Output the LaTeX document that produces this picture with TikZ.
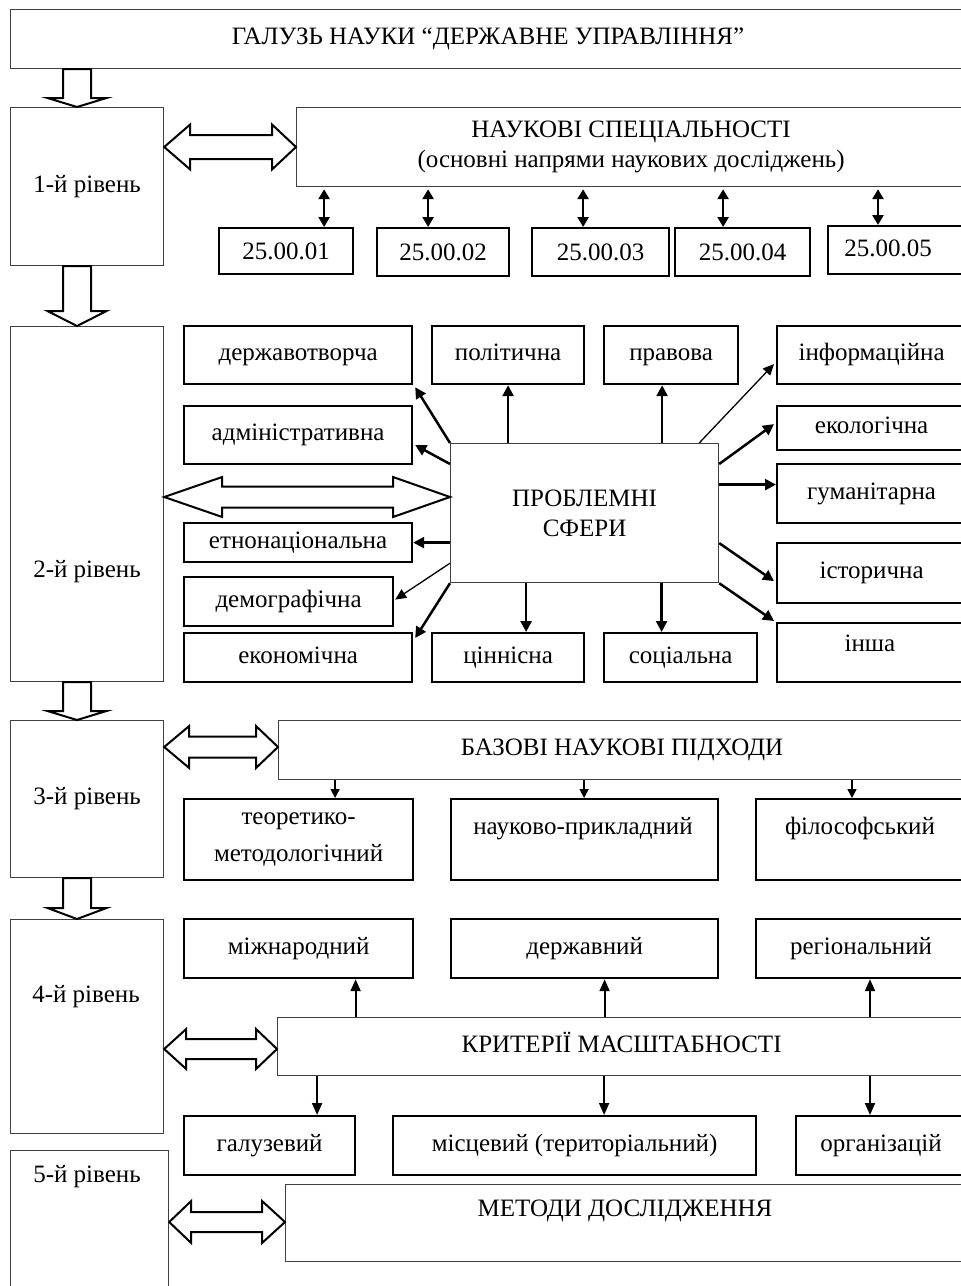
\documentclass[tikz,border=0pt]{standalone}
\usepackage{fontspec}
\setmainfont{Liberation Serif}
\usetikzlibrary{calc,arrows.meta}
\tikzset{
  base/.style={rectangle, inner sep=0pt, align=center, font=\fontsize{25}{30}\selectfont, text height=17pt, text depth=6pt},
  multi/.style={text height={}, text depth={}},
  digits/.style={text depth=1pt},
  thinbox/.style={base, draw=black!75, line width=1.2pt},
  thickbox/.style={base, draw=black, line width=2.2pt},
  txt/.style={base, align=center},
  blk/.style={draw=black, line width=2pt, fill=white, line join=miter},
  arr/.style={draw=black, line width=2.5pt, -{Triangle[length=11pt,width=11pt]}},
  thinarr/.style={draw=black, line width=1.3pt, -{Triangle[length=11pt,width=10pt]}},
  arrs/.style={draw=black, line width=1.6pt, -{Triangle[length=9pt,width=9pt]}},
  arrm/.style={draw=black, line width=2pt, -{Triangle[length=12pt,width=10pt]}},
  dbl/.style={draw=black, line width=2.5pt, {Triangle[length=10pt,width=11pt]}-{Triangle[length=10pt,width=11pt]}},
}
% box: style, name, x1, y1, x2, y2, text
\newcommand\bx[7]{\node[#1, anchor=north west, minimum width={#5-#3}, minimum height={#6-#4}] (#2) at (#3,#4) {#7};}
% vertical block arrow: upper anchor, lower anchor, x centre, head length
\newcommand\vblk[4]{\draw[blk] let \p1=#1, \p2=#2 in
  (#3pt-14pt,\y1) -- (#3pt+14pt,\y1) -- (#3pt+14pt,\y2+#4pt) -- (#3pt+29.5pt,\y2+#4pt)
  -- (#3pt,\y2) -- (#3pt-29.5pt,\y2+#4pt) -- (#3pt-14pt,\y2+#4pt) -- cycle;}
% horizontal double block arrow: left anchor, right anchor, y, head len L, head len R, half head, half shaft
\newcommand\hdbl[7]{\draw[blk] let \p1=#1, \p2=#2 in
  (\x1,-#3pt) -- (\x1+#4pt,-#3pt+#6pt) -- (\x1+#4pt,-#3pt+#7pt) -- (\x2-#5pt,-#3pt+#7pt)
  -- (\x2-#5pt,-#3pt+#6pt) -- (\x2,-#3pt) -- (\x2-#5pt,-#3pt-#6pt) -- (\x2-#5pt,-#3pt-#7pt)
  -- (\x1+#4pt,-#3pt-#7pt) -- (\x1+#4pt,-#3pt-#6pt) -- cycle;}
\begin{document}
\begin{tikzpicture}[x=1pt,y=-1pt]
\useasboundingbox (0,0) rectangle (961,1286);
\clip (0,0) rectangle (961,1286);
\fill[white] (0,0) rectangle (961,1286);

% ---------- top ----------
\bx{thinbox}{TOP}{10}{9}{965}{68}{ГАЛУЗЬ НАУКИ “ДЕРЖАВНЕ УПРАВЛІННЯ”}

% ---------- level 1 ----------
\bx{thinbox}{L1}{10}{107}{163}{265}{1-й рівень}
\bx{thinbox,multi}{NS}{296}{107}{965}{186}{НАУКОВІ СПЕЦІАЛЬНОСТІ\\(основні напрями наукових досліджень)}
\bx{thickbox,digits}{S1}{218}{227}{352}{273}{25.00.01}
\bx{thickbox,digits}{S2}{376}{227}{508}{275}{25.00.02}
\bx{thickbox,digits}{S3}{531}{227}{668}{275}{25.00.03}
\bx{thickbox,digits}{S4}{674}{227}{809}{275}{25.00.04}
\bx{thickbox}{S5}{827}{225}{1000}{273}{}
\node[txt,digits] (S5t) at (888,248) {25.00.05};

\coordinate (s1a) at ($(S1.north)+(38,0)$);
\coordinate (s2a) at ($(S2.north)+(-15,0)$);
\coordinate (s3a) at ($(S3.north)+(-17.5,0)$);
\coordinate (s4a) at ($(S4.north)+(-19.5,0)$);
\coordinate (s5a) at ($(S5.north west)+(51,0)$);
\foreach \c in {s1a,s2a,s3a,s4a,s5a}{
  \draw[dbl] ($(\c |- NS.south)+(0,2)$) -- (\c);
}

% ---------- level 2 ----------
\bx{thinbox}{L2}{10}{326}{163}{681}{}
\node[txt] (L2t) at (87,572) {2-й рівень};
\bx{thickbox}{DT}{183}{325}{411}{383}{державотворча}
\bx{thickbox}{PO}{431}{325}{583}{383}{політична}
\bx{thickbox}{PR}{603}{325}{737}{383}{правова}
\bx{thickbox}{INF}{776}{325}{965}{383}{інформаційна}
\bx{thickbox}{AD}{183}{405}{411}{463}{адміністративна}
\bx{thickbox}{EK}{776}{405}{965}{449}{екологічна}
\bx{thickbox}{HU}{776}{463}{965}{522}{гуманітарна}
\bx{thinbox,multi}{PS}{450}{443}{718}{582}{ПРОБЛЕМНІ\\СФЕРИ}
\bx{thickbox}{ET}{183}{522}{411}{561}{етнонаціональна}
\bx{thickbox}{IS}{776}{542}{965}{602}{історична}
\bx{thickbox}{DE}{183}{576}{392}{625}{демографічна}
\bx{thickbox}{IN}{776}{622}{965}{681}{}
\node[txt] (INt) at (870,646) {інша};
\bx{thickbox}{EC}{183}{632}{411}{681}{економічна}
\bx{thickbox}{CI}{431}{632}{583}{681}{ціннісна}
\bx{thickbox}{SO}{603}{632}{756}{681}{соціальна}

\draw[arr] (PS.north west) -- ($(DT.south east)+(2,2)$);
\draw[arr] (PS.north -| PO.south) -- (PO.south);
\coordinate (prA) at ($(PR.south)+(-9,0)$);
\draw[arr] (prA |- PS.north) -- (prA);
\draw[thinarr] ($(PS.north east)+(-20,0)$) -- ($(INF.west)+(-2,9)$);
\draw[arr] ($(PS.north west)+(0,21)$) -- ($(AD.east)+(2,10)$);
\draw[arr] ($(PS.north east)+(0,21)$) -- ($(EK.west)+(-2,-4)$);
\coordinate (huA) at ($(HU.west)+(0,-9)$);
\draw[arr] (huA -| PS.east) -- (huA);
\draw[arr] (ET.east -| PS.west) -- (ET.east);
\draw[thinarr] ($(PS.south west)+(0,-20)$) -- ($(DE.east)+(1,-2)$);
\draw[arr] (PS.south west) -- ($(EC.north east)+(2,6)$);
\coordinate (ciA) at ($(CI.north)+(18,0)$);
\draw[arr] (ciA |- PS.south) -- (ciA);
\coordinate (soA) at ($(SO.north)+(-19,0)$);
\draw[arr] (soA |- PS.south) -- (soA);
\draw[arr] ($(PS.east)+(0,30)$) -- ($(IS.west)+(-2,8)$);
\draw[arr] (PS.south east) -- ($(IN.north west)+(-2,-1)$);

% ---------- level 3 ----------
\bx{thinbox}{L3}{10}{720}{163}{877}{3-й рівень}
\bx{thinbox}{BAZ}{278}{720}{965}{779}{БАЗОВІ НАУКОВІ ПІДХОДИ}
\bx{thickbox,multi}{TM}{183}{798}{412}{879}{теоретико-\\[7pt]методологічний}
\bx{thickbox}{NP}{450}{798}{717}{879}{}
\node[txt] (NPt) at (583,829) {науково-прикладний};
\bx{thickbox}{FI}{755}{798}{965}{879}{}
\node[txt] (FIt) at (860,829) {філософський};
\coordinate (tmA) at ($(TM.north)+(36.5,0)$);
\coordinate (npA) at ($(NP.north)+(-0.5,0)$);
\coordinate (fiA) at ($(FI.north west)+(97,0)$);
\foreach \c in {tmA,npA,fiA}{ \draw[arrs] (\c |- BAZ.south) -- (\c); }

% ---------- level 4 ----------
\bx{thinbox}{L4}{10}{919}{163}{1133}{}
\node[txt] (L4t) at (86,997) {4-й рівень};
\bx{thickbox}{MN}{183}{918}{412}{977}{міжнародний}
\bx{thickbox}{DZ}{450}{918}{717}{977}{державний}
\bx{thickbox}{RG}{755}{918}{965}{977}{регіональний}
\bx{thinbox}{KR}{277}{1017}{965}{1075}{КРИТЕРІЇ МАСШТАБНОСТІ}
\bx{thickbox}{GA}{183}{1115}{354}{1174}{галузевий}
\bx{thickbox}{MI}{392}{1115}{755}{1174}{місцевий (територіальний)}
\bx{thickbox}{OR}{795}{1115}{965}{1174}{організацій}
\coordinate (mnA) at ($(MN.south)+(57,0)$);
\coordinate (dzA) at ($(DZ.south)+(20,0)$);
\coordinate (rgA) at ($(RG.south west)+(115,0)$);
\foreach \c in {mnA,dzA,rgA}{ \draw[arrm] (\c |- KR.north) -- (\c); }
\coordinate (gaA) at ($(GA.north)+(47.5,0)$);
\coordinate (miA) at ($(MI.north)+(29.5,0)$);
\coordinate (orA) at ($(OR.north west)+(75,0)$);
\foreach \c in {gaA,miA,orA}{ \draw[arrm] (\c |- KR.south) -- (\c); }

% ---------- level 5 ----------
\bx{thinbox}{L5}{10}{1150}{168}{1300}{}
\node[txt] (L5t) at (87,1177) {5-й рівень};
\bx{thinbox}{ME}{285}{1184}{965}{1261}{}
\node[txt] (MEt) at (625,1211) {МЕТОДИ ДОСЛІДЖЕННЯ};

% ---------- block arrows ----------
\vblk{(TOP.south)}{(L1.north)}{77}{9}
\vblk{(L1.south)}{(L2.north)}{77}{15}
\vblk{(L2.south)}{(L3.north)}{77}{9}
\vblk{(L3.south)}{(L4.north)}{77}{11}
\hdbl{(L1.east)}{(NS.west)}{147}{26}{24}{22.5}{12}
\hdbl{(L2.east)}{(PS.west)}{497}{58}{57}{20}{10.5}
\hdbl{(L3.east)}{(BAZ.west)}{747}{25}{22}{21}{10.5}
\hdbl{(L4.east)}{(KR.west)}{1049}{22}{21}{20}{10}
\hdbl{(L5.east)}{(ME.west)}{1222}{22}{23}{21}{10}
\end{tikzpicture}
\end{document}
